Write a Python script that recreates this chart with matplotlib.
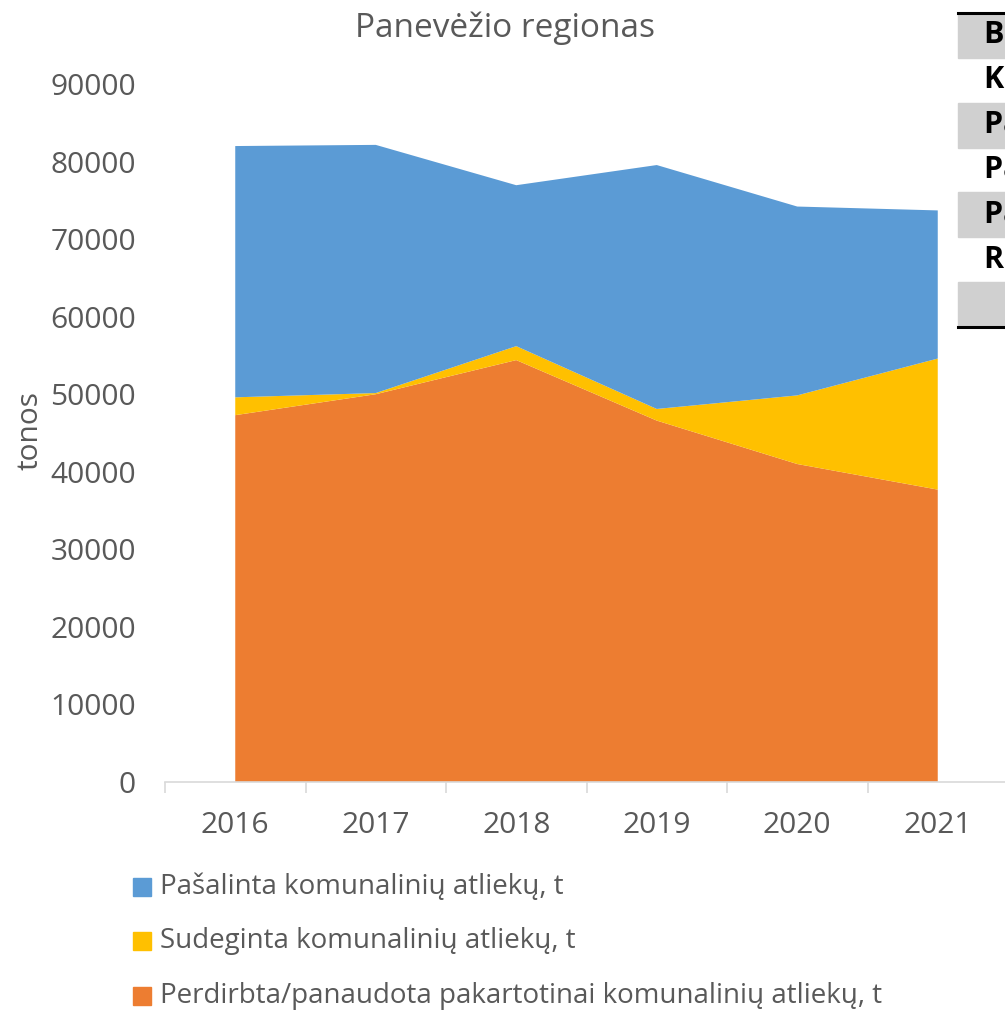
import matplotlib
matplotlib.use('Agg')
import matplotlib.pyplot as plt
from matplotlib.patches import Rectangle
from matplotlib.lines import Line2D

plt.rcParams['font.family'] = ['Open Sans', 'DejaVu Sans']

# data (tonnes)
years = ['2016', '2017', '2018', '2019', '2020', '2021']
perdirbta = [47300, 50000, 54400, 46600, 41000, 37700]
sudeginta = [2300, 150, 1800, 1500, 8850, 16900]
pasalinta = [32400, 32000, 20750, 31450, 24350, 19100]

labels = ['Perdirbta/panaudota pakartotinai komunalinių atliekų, t',
          'Sudeginta komunalinių atliekų, t',
          'Pašalinta komunalinių atliekų, t']
colors = ['#ED7D31', '#FFC000', '#5B9BD5']

table_rows = ['Biržų r.', 'Kupiškio r.', 'Panevėžio m.', 'Panevėžio r.',
              'Pasvalio r.', 'Rokiškio r.', '']

text_col = '#595959'
W, H = 1005, 1011
fig = plt.figure(figsize=(W / 100, H / 100), dpi=100)

# axes runs past the right edge like in the original (cropped) chart
ax = fig.add_axes([165 / W, 1 - 782 / H, (1008 - 165) / W, (782 - 84) / H])
x = list(range(len(years)))
ax.stackplot(x, perdirbta, sudeginta, pasalinta, colors=colors, linewidth=0)

ax.set_xlim(-0.5, len(years) - 0.5)
ax.set_ylim(0, 90000)
ax.set_yticks(range(0, 90001, 10000))
ax.set_yticklabels([str(v) for v in range(0, 90001, 10000)])
ax.set_xticks(x)
ax.set_xticklabels(years)
ax.set_xticks([i - 0.5 for i in range(len(years) + 1)], minor=True)
ax.tick_params(axis='x', which='major', length=0, pad=21, labelsize=21.5, labelcolor=text_col)
ax.tick_params(axis='x', which='minor', length=8, width=1.2, color='#d9d9d9')
ax.tick_params(axis='y', length=0, pad=21, labelsize=21.5, labelcolor=text_col)
for s in ['top', 'right', 'left']:
    ax.spines[s].set_visible(False)
ax.spines['bottom'].set_color('#d9d9d9')
ax.spines['bottom'].set_linewidth(1.2)

fig.text(30 / W, 1 - 430 / H, 'tonos', rotation=90, ha='center', va='center',
         fontsize=21.5, color=text_col)
fig.text(505 / W, 1 - 28 / H, 'Panevėžio regionas', ha='center', va='center',
         fontsize=24, color=text_col)

# legend, drawn by hand (top entry = top series)
leg_y = [887, 941, 996]
for yy, lab, col in zip(leg_y, labels[::-1], colors[::-1]):
    fig.patches.append(Rectangle((133 / W, 1 - (yy + 9) / H), 18 / W, 18 / H,
                                 transform=fig.transFigure, color=col))
    fig.text(160 / W, 1 - yy / H, lab, ha='left', va='center',
             fontsize=20, color=text_col)

# part of a table sitting at the right edge
top, bot = 13, 327
rh = (bot - top) / len(table_rows)
for i, name in enumerate(table_rows):
    y0 = top + i * rh
    if i % 2 == 0:
        fig.patches.append(Rectangle((958 / W, 1 - (y0 + rh) / H), 60 / W, rh / H,
                                     transform=fig.transFigure, color='#d0d0d0', zorder=1))
    fig.text(984 / W, 1 - (y0 + rh / 2) / H, name, ha='left', va='center',
             fontsize=22, fontweight='bold', color='black')
for yy in [top, bot]:
    fig.lines.append(Line2D([958 / W, 1.02], [1 - yy / H, 1 - yy / H],
                            transform=fig.transFigure, color='black', linewidth=2.2))

fig.savefig('out.png', dpi=100)
